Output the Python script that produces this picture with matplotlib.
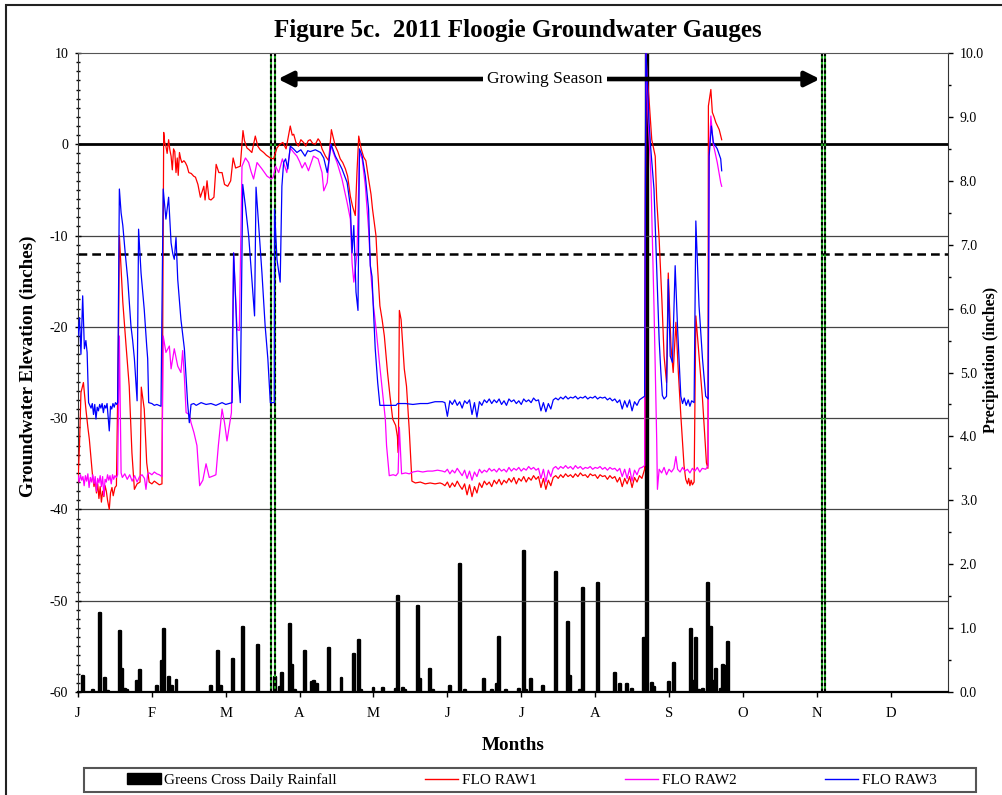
import numpy as np
import matplotlib.pyplot as plt
from matplotlib.patches import Rectangle, Patch
from matplotlib.lines import Line2D
from matplotlib.ticker import MultipleLocator, FormatStrFormatter

plt.rcParams['font.family'] = ['Liberation Serif', 'DejaVu Serif']
plt.rcParams['axes.unicode_minus'] = False

# axe x : jours depuis le 1er janvier (repères mensuels réguliers)
month_ticks = [0, 30, 60, 90, 120, 150, 180, 210, 240, 270, 300, 330]
month_labels = ['J', 'F', 'M', 'A', 'M', 'J', 'J', 'A', 'S', 'O', 'N', 'D']

# pluie journalière (pouces), Greens Cross
rain_day = [2, 6, 9, 11, 12, 17, 18, 19, 20, 24, 25, 32, 34, 35, 37, 38, 40,
            54, 57, 58, 63, 67, 73, 80, 82, 83, 86, 87, 88, 92, 95, 96, 97,
            102, 107, 112, 114, 115, 120, 124, 129, 130, 132, 133, 138, 139,
            143, 144, 151, 155, 157, 165, 168, 170, 171, 174, 179, 181, 182,
            184, 189, 194, 199, 200, 204, 205, 211, 218, 220, 223, 225, 230,
            231, 233, 234, 240, 242, 249, 250, 251, 252, 254, 256, 257, 258,
            259, 261, 262, 263, 264]
rain_in = [0.25, 0.03, 1.24, 0.22, 0.02, 0.95, 0.36, 0.04, 0.03, 0.17, 0.35,
           0.09, 0.49, 0.99, 0.23, 0.09, 0.18,
           0.09, 0.64, 0.09, 0.52, 1.01, 0.73, 0.24, 0.08, 0.30, 1.06, 0.42,
           0.03, 0.64, 0.16, 0.17, 0.12,
           0.69, 0.22, 0.60, 0.82, 0.03, 0.06, 0.06, 0.05, 1.51, 0.06, 0.03,
           1.35, 0.21, 0.36, 0.03, 0.10, 2.01, 0.03, 0.21, 0.03, 0.12, 0.86,
           0.03, 0.05, 2.20, 0.03, 0.21, 0.09, 1.88, 1.10, 0.25, 0.03, 1.63,
           1.71, 0.29, 0.12, 0.12, 0.05, 0.85, 10.5, 0.14, 0.08, 0.16, 0.45,
           0.99, 0.17, 0.84, 0.03, 0.05, 1.71, 1.01, 0.17, 0.36, 0.05, 0.42,
           0.41, 0.78]

# FLO RAW1 (rouge)
raw1_day_a = [0, 0.6, 1.2, 2.2, 3.2, 4.0, 4.6, 5.9, 6.5, 7, 7.5, 8, 8.5, 9,
              9.5, 10, 10.5, 11, 11.5, 12, 12.7, 13.2, 13.8, 14.3, 15, 15.6,
              16.5, 16.8, 18.2, 19.5, 20.8, 21.9, 22.9, 24, 25.2, 25.7, 26.9,
              27.9, 28.9, 30, 31, 32, 33, 34.1, 34.8, 35.2, 35.7, 36.2, 36.8,
              37.3, 37.8, 38.3, 38.8, 39.3, 39.8, 40.3, 40.7, 41.2, 41.7, 42.2,
              43.0, 43.6, 44.3, 45.0, 46, 47, 47.7, 48.7, 49.7, 50.4, 51.1,
              51.6, 52.4, 53.2, 54, 55.2, 56.1, 57.2, 58.5, 59.5, 60.8, 62,
              63.0, 64, 65.9, 67.0, 67.6, 68.6, 69.5, 70.6, 72.0, 73, 74, 75.4,
              76.5, 78.1, 79.4, 80.8, 82, 83.2, 84.5, 86.2, 87.0, 87.6, 88.5,
              89.5, 90.5, 91.6, 92.5, 93.5, 94.3, 95.3, 96.4, 97.5, 98.3, 99.1,
              100.5, 101.8, 102.9, 103.5, 104.5, 105.5, 106.5, 107.5, 108.6,
              109.5, 110.6, 111.5, 112.6, 113.3, 114.0, 115, 116, 116.9, 118.0,
              119.0, 119.6, 121.0, 121.7, 122.6, 123.5, 124.4, 125.7, 126.7,
              127.8, 129, 129.7, 130.1, 130.5, 131.2, 132.5, 133.4, 134.5,
              135.6, 137, 139, 141, 143, 145, 147, 148]
raw1_val_a = [-37.0, -33, -27.2, -26.1, -29.0, -31, -32.3, -36.3, -37.5, -36.8,
              -38.2, -37.2, -38.8, -37.5, -39.2, -38, -38.6, -37.4, -38, -39,
              -40.0, -38.2, -37.6, -38.5, -37.6, -37.4, -20, -10.0, -17.3,
              -22.0, -26.5, -33.8, -37.8, -37.2, -37.0, -26.6, -29.0, -34.9,
              -37.0, -37.2, -36.9, -37.1, -37.3, -37.2, 1.3, 0.2, -0.2, -1.0,
              0.5, -0.6, -1.3, -2.8, -0.5, -0.8, -3.1, -1.5, -3.4, -0.9, -1.6,
              -2.0, -1.8, -2.0, -2.4, -3.1, -3.2, -3.5, -3.6, -4.4, -5.8, -5.2,
              -4.6, -6.1, -4.0, -6.0, -6.1, -5.8, -2.2, -3.1, -3.1, -4.4, -4.6,
              -4.0, -1.5, -2.6, -2.4, 1.5, 0.4, -0.4, -0.6, -0.9, 0.9, -0.2,
              -0.6, -0.9, -1.2, -1.5, -1.6, -0.4, 0.0, 0.2, -0.5, 2.0, 1.0, 1.1,
              0.2, -0.2, 0.5, 0.2, -0.2, 0.4, 0.5, 0.1, 0.0, 0.6, 0.3, -0.5,
              -1.3, -1.8, 1.6, 0.9, -0.2, -0.8, -1.6, -2.0, -2.7, -3.5, -5.7,
              -6.8, -7.8, -3.0, 0.9, -0.5, -1.4, -1.8, -3.8, -5.5, -7.1, -10.0,
              -13.7, -17.7, -19.2, -21.0, -25.0, -27.6, -30.1, -30.8, -32.0,
              -33.8, -18.2, -19.2, -24.6, -26.5, -31.2, -36.9, -37.1, -37.0,
              -37.2, -37.1, -37.2, -37.1, -37.2]
raw1_summer = [-37.4, -37.0, -37.6, -37.1, -37.5, -36.9, -37.4, -37.8, -37.2, -38.4,
               -37.3, -38.6, -37.5, -38.2, -37.1, -37.6, -36.9, -37.3, -37.0, -37.5,
               -36.8, -37.2, -36.7, -37.3, -36.8, -37.1, -36.6, -37.0, -36.5, -37.2,
               -36.6, -36.9, -36.4, -37.0, -36.5, -36.8, -36.3, -36.7, -36.4, -37.6,
               -36.6, -37.8, -36.8, -37.4, -36.5, -36.3, -36.6, -36.2, -36.5, -36.1,
               -36.4, -36.2, -36.5, -36.1, -36.4, -36.0, -36.3, -36.2, -36.5, -36.1,
               -36.3, -36.2, -36.6, -36.2, -36.4, -36.3, -36.7, -36.3, -36.6, -36.4,
               -37.0, -36.5, -37.5, -36.6, -37.2, -36.4, -37.6, -36.5, -37.0, -36.3,
               -36.6]
raw1_day_b = [230.1, 230.6, 231.0, 231.9, 233, 234.4, 235, 236, 237.1, 238, 239,
              239.7, 240.8, 241.7, 242.8, 243.8, 244.8, 246.1, 246.8, 247.5, 248,
              248.5, 249, 249.5, 250.2, 250.9, 252.2, 253.6, 255.2, 255.8, 256,
              257, 257.6, 258.3, 259, 260.4, 261.4]
raw1_val_b = [-35.6, 10.5, 8.0, 4.9, 0.5, -1.3, -6.0, -10.4, -17.0, -23.2, -26.1,
              -14.1, -22.1, -25.0, -19.5, -25.0, -29.7, -35.2, -36.7, -37.2,
              -36.6, -37.4, -36.8, -37.3, -37.0, -18.8, -23.2, -27.9, -34.9,
              -35.5, 4.2, 6.0, 3.5, 3.0, 2.4, 1.6, 0.5]

# FLO RAW2 (magenta)
raw2_day_a = [0, 0.5, 1, 1.5, 2, 2.5, 3, 3.5, 4, 4.5, 5, 5.5, 6, 6.5, 7, 7.5, 8,
              8.5, 9, 9.5, 10, 10.5, 11, 11.5, 12, 12.5, 13, 13.5, 14, 14.5, 15,
              15.6, 16.1, 16.8, 17.5, 18, 19, 20, 21, 22, 23, 24, 25, 26, 27,
              27.6, 28.3, 29, 30, 31, 32, 33, 34.1, 34.6, 35.7, 37.1, 37.8, 39.1,
              40.5, 41.8, 42.5, 43.2, 43.9, 45.2, 45.9, 47.1, 48.3, 49.4, 50.7,
              52, 53.3, 55.2, 56, 57, 58.1, 58.5, 59.5, 60.5, 62.3, 63.2, 64.6,
              65.5, 66.6, 68, 69.3, 70.3, 71.3, 72.7, 74.7, 76.8, 78.5, 79.3,
              80.2, 81.5, 83, 84.8, 86.2, 87.6, 88.9, 90, 91, 92.2, 93.6, 95.6,
              97.5, 99.1, 99.8, 101.2, 102.5, 103.8, 105.2, 107.2, 109.3, 110.6,
              111.3, 112.0, 113.3, 114.3, 115.4, 116.7, 118.0, 118.9, 120, 121.2,
              122.4, 123.7, 124.8, 125.3, 126.4, 128, 129.1, 130, 130.5, 131.4,
              133, 134.5, 136, 138, 140, 142, 144, 146, 148]
raw2_val_a = [-36.3, -37.0, -36.2, -36.8, -36.4, -37.4, -36.3, -36.9, -36.1,
              -37.6, -36.5, -37.0, -36.2, -37.2, -36.4, -38.0, -36.6, -37.1,
              -36.3, -37.5, -36.4, -38.5, -36.7, -37.0, -36.2, -36.8, -36.3,
              -37.2, -36.2, -36.7, -36.3, -36.5, -36.2, -21.0, -36.0, -36.5,
              -36.1, -36.7, -36.2, -36.9, -36.3, -37.0, -36.4, -36.2, -36.6,
              -37.8, -36.1, -36.0, -36.2, -35.9, -36.1, -36.2, -36.4, -21.0,
              -22.8, -22.1, -24.6, -22.4, -24.3, -25.0, -22.6, -25.5, -29.4,
              -29.6, -30.5, -31.6, -33.0, -37.4, -36.8, -35.0, -36.5, -36.3,
              -36.2, -33.0, -30.1, -29.0, -30.5, -32.5, -29.4, -11.9, -20.3,
              -20.4, -2.4, -1.5, -2.0, -3.0, -3.8, -2.0, -2.7, -3.5, -3.8, -3.6,
              -2.4, -3.1, -1.6, -3.1, -0.4, -0.9, -1.3, -1.9, -2.6, -2.0, -2.9,
              -1.3, -1.6, -3.1, -5.1, -4.2, 0.0, -1.0, -2.0, -3.8, -6.4, -8.2,
              -13.0, -15.1, -12.0, -0.9, -1.6, -4.6, -9.3, -14.1, -17.7, -20.6,
              -23.9, -27.2, -30.1, -33.0, -36.3, -36.2, -36.3, -36.0, -31.0,
              -36.1, -36.0, -36.1, -35.9, -35.8, -35.9, -35.8, -35.8, -35.7,
              -35.8]
raw2_summer = [-35.9, -35.6, -36.1, -35.7, -36.0, -35.5, -35.9, -36.3, -35.7, -36.6,
               -35.8, -36.8, -35.9, -36.4, -35.6, -36.0, -35.7, -35.9, -35.5, -35.8,
               -35.6, -35.9, -35.5, -35.8, -35.6, -35.9, -35.4, -35.8, -35.5, -35.7,
               -35.4, -35.8, -35.5, -35.7, -35.3, -35.6, -35.4, -35.7, -35.5, -36.6,
               -35.6, -37.0, -35.7, -36.4, -35.5, -35.3, -35.6, -35.3, -35.5, -35.2,
               -35.5, -35.3, -35.6, -35.2, -35.5, -35.3, -35.6, -35.4, -35.5, -35.3,
               -35.6, -35.4, -35.5, -35.3, -35.6, -35.4, -35.7, -35.4, -35.6, -35.5,
               -35.8, -35.5, -36.4, -35.6, -36.6, -35.5, -36.9, -35.7, -36.2, -35.5,
               -35.4]
raw2_day_b = [230.1, 230.6, 231.5, 232.6, 233.9, 235, 235.3, 236, 237, 238, 239,
              240, 241, 242, 242.8, 243.5, 244.5, 245.5, 246.5, 247.5, 248.5,
              249.5, 250.5, 251.5, 252.5, 253.5, 254.9, 255.9, 256.3, 257, 258,
              259.6, 261, 261.4]
raw2_val_b = [-35.2, 10.5, 3.0, -3.1, -17.7, -32.3, -37.8, -35.6, -36.0, -35.4,
              -36.2, -35.6, -35.9, -35.5, -34.2, -35.6, -35.9, -35.4, -35.8,
              -35.6, -36.0, -35.5, -35.8, -35.4, -35.9, -35.5, -35.6, -35.2,
              -1.3, 3.1, 0.0, -2.0, -4.2, -4.6]

# FLO RAW3 (bleu)
raw3_day_a = [0, 0.6, 1.2, 1.9, 2.6, 3.2, 3.7, 4.3, 4.8, 5.3, 5.8, 6.3, 6.8, 7.3,
              7.8, 8.3, 8.8, 9.3, 9.8, 10.3, 10.8, 11.3, 11.8, 12.3, 12.7, 13.2,
              13.7, 14.2, 14.7, 15.2, 15.7, 16.1, 16.8, 17.5, 18.2, 19.2, 20.2,
              21.5, 22.2, 22.9, 23.5, 24.0, 24.6, 25.6, 26.9, 27.9, 28.3, 28.7,
              30, 31, 32, 33.7, 34.6, 35.7, 36.8, 37.8, 38.5, 39.1, 39.8, 40.5,
              41.8, 43.2, 44.5, 45.2, 45.9, 47, 48, 50, 52, 54, 56, 58.5, 60,
              62.6, 63.2, 64.1, 65, 65.9, 66.9, 68, 69.3, 70.6, 71.7, 72.3, 73.3,
              74.7, 76, 77.1, 78.1, 79.7, 79.8, 80.8, 82.1, 82.8, 83.5, 84.3,
              85.2, 86.2, 87.5, 88.9, 90.5, 92.2, 93.3, 94.3, 96.4, 98.5, 99.8,
              101.2, 101.8, 102.8, 104.5, 105.9, 107.2, 109.3, 110.6, 111.3,
              112.0, 112.9, 113.7, 114.3, 115.4, 116.7, 118.0, 118.7, 119.4,
              119.9, 120.7, 121.7, 122.6, 125, 129.1, 129.8, 133, 136, 139, 142,
              145, 148]
raw3_val_a = [-21.0, -19.0, -23.0, -16.6, -22.4, -21.5, -22.8, -28.3, -28.6,
              -28.9, -28.4, -29.6, -28.5, -30.1, -28.8, -29.2, -28.5, -28.9,
              -28.4, -29.4, -28.6, -28.9, -28.4, -30.0, -31.4, -28.7, -29.0,
              -28.4, -28.8, -28.3, -28.5, -28.3, -4.9, -7.5, -8.9, -12.0, -14.8,
              -19.9, -21.5, -23.5, -26.0, -28.1, -9.3, -14.1, -18.1, -22.1,
              -23.5, -28.3, -28.4, -28.6, -28.5, -28.7, -4.9, -8.2, -5.8, -10.8,
              -12.0, -12.6, -10.2, -14.8, -19.2, -22.4, -28.3, -30.5, -28.5,
              -28.4, -28.6, -28.3, -28.5, -28.4, -28.6, -28.3, -28.5, -28.3,
              -11.9, -17.7, -24.6, -28.3, -4.4, -6.8, -10.0, -14.8, -18.8, -4.7,
              -8.6, -14.1, -19.9, -23.5, -28.3, -28.3, -7.1, -12.6, -15.1, -4.6,
              -2.0, -1.6, -2.7, -0.2, -0.5, -0.9, -0.6, -1.3, -0.7, -0.8, -0.6,
              -0.9, -1.5, -3.1, -2.0, 0.0, -1.3, -2.0, -2.7, -4.2, -6.8, -11.9,
              -8.9, -16.2, -18.2, -0.5, -1.3, -3.5, -7.1, -13.3, -14.5, -17.7,
              -22.4, -26.1, -28.6, -28.6, -28.6, -28.4, -28.4, -28.5, -28.4,
              -28.4, -28.2, -28.2]
raw3_summer = [-28.3, -29.8, -28.1, -28.5, -28.0, -28.6, -28.2, -28.9, -28.1, -28.4,
               -28.0, -29.6, -28.3, -29.9, -28.2, -28.6, -28.0, -28.3, -27.9, -28.4,
               -28.0, -28.3, -27.9, -28.5, -28.1, -28.6, -27.9, -28.2, -28.0, -28.4,
               -28.1, -28.5, -27.9, -28.2, -28.0, -28.3, -27.8, -28.1, -28.0, -29.2,
               -28.3, -29.3, -28.4, -29.0, -28.0, -27.8, -28.0, -27.7, -27.9, -27.6,
               -27.9, -27.7, -27.8, -27.6, -27.9, -27.7, -27.8, -27.6, -27.9, -27.7,
               -27.8, -27.6, -27.9, -27.7, -27.8, -27.7, -28.0, -27.8, -28.1, -27.9,
               -28.3, -28.0, -29.0, -28.1, -28.8, -28.0, -29.2, -28.2, -28.6, -28.0,
               -27.8]
raw3_day_b = [230.1, 230.6, 231.9, 232.6, 233.9, 234.6, 235.3, 236, 236.7, 237.3,
              238, 239, 239.7, 240.5, 241.4, 242.5, 243.5, 244.8, 245.5, 246.2,
              247, 247.8, 248.5, 249.2, 250.2, 250.9, 252.2, 253.6, 254.9, 255.9,
              256.3, 257.2, 258, 259.6, 261, 261.4]
raw3_val_b = [-27.6, 10.5, 2.4, -0.5, -4.9, -10.4, -15.9, -21.4, -25.0, -27.5,
              -27.9, -27.6, -14.8, -23.2, -23.9, -13.3, -20.3, -27.6, -28.4,
              -27.8, -28.6, -28.0, -28.7, -28.1, -28.3, -8.4, -17.7, -23.5,
              -27.6, -27.9, -1.3, 2.0, 0.2, -0.5, -1.6, -2.9]

summer_start = 149


def serie(day_a, val_a, summer, day_b, val_b):
    d = list(day_a) + list(np.arange(summer_start, summer_start + len(summer))) + list(day_b)
    v = list(val_a) + list(summer) + list(val_b)
    return d, v


fig = plt.figure(figsize=(10.02, 7.95), dpi=100)
ax = fig.add_axes([78 / 1002, 1 - 692 / 795, 870 / 1002, 639 / 795])
ax2 = ax.twinx()
ax.set_zorder(ax2.get_zorder() + 1)
ax.patch.set_visible(False)

# pluie
ax2.bar(rain_day, rain_in, width=0.8, color='black', edgecolor='black',
        linewidth=1.7, joinstyle='round')
ax2.set_ylim(0, 10)
ax2.yaxis.set_major_locator(MultipleLocator(1))
ax2.yaxis.set_minor_locator(MultipleLocator(0.5))
ax2.yaxis.set_major_formatter(FormatStrFormatter('%.1f'))
ax2.tick_params(axis='y', which='major', direction='out', length=3.5, width=1,
                labelsize=10, pad=5)
ax2.tick_params(axis='y', which='minor', direction='out', length=2.5, width=1)
for s in ['top', 'left', 'bottom']:
    ax2.spines[s].set_visible(False)
ax2.spines['right'].set_color('#333333')

# lignes de référence
for g in [-10, -20, -30, -40, -50]:
    ax.axhline(g, color='#444444', lw=0.9, zorder=1)
ax.axhline(0, color='black', lw=2, zorder=2)
ax.axhline(-12, color='black', lw=1.8, linestyle=(0, (3.5, 2)), zorder=2)

for d in [78.5, 80.1, 302.0, 303.5]:
    ax.axvline(d, color='#22aa22', lw=1.5, zorder=2)
    ax.axvline(d, color='black', lw=1.5, linestyle=(0, (1.6, 1.2)), zorder=2)

# niveaux de nappe
d1, v1 = serie(raw1_day_a, raw1_val_a, raw1_summer, raw1_day_b, raw1_val_b)
d2, v2 = serie(raw2_day_a, raw2_val_a, raw2_summer, raw2_day_b, raw2_val_b)
d3, v3 = serie(raw3_day_a, raw3_val_a, raw3_summer, raw3_day_b, raw3_val_b)
ax.plot(d1, v1, color='#ff0000', lw=0.9, zorder=3)
ax.plot(d2, v2, color='#ff00ff', lw=0.9, zorder=3)
ax.plot(d3, v3, color='#0000ff', lw=0.9, zorder=4)

ax.set_xlim(0, 353.3)
ax.set_ylim(-60, 10)
ax.set_xticks(month_ticks, month_labels)
ax.yaxis.set_major_locator(MultipleLocator(10))
ax.yaxis.set_minor_locator(MultipleLocator(1))
ax.tick_params(axis='y', which='major', direction='inout', length=4, width=1,
               labelsize=10, pad=5, right=False)
ax.tick_params(axis='y', which='minor', direction='inout', length=3, width=1,
               right=False)
ax.tick_params(axis='x', direction='out', length=3.5, width=1, labelsize=10.5,
               pad=7, top=False)
ax.spines['right'].set_visible(False)
ax.spines['top'].set_color('#555555')
ax.spines['top'].set_linewidth(0.8)
ax.spines['bottom'].set_linewidth(1.6)
ax.spines['left'].set_color('#333333')

# saison de croissance
ax.annotate('', xy=(81.2, 7.15), xytext=(301.3, 7.15),
            arrowprops=dict(arrowstyle='<|-|>', lw=3.3, color='black',
                            mutation_scale=22, shrinkA=0, shrinkB=0), zorder=5)
ax.text(189.6, 7.15, 'Growing Season', ha='center', va='center', fontsize=12.5,
        bbox=dict(facecolor='white', edgecolor='none', pad=3), zorder=6)

# textes
fig.text(518 / 1002, 1 - 30 / 795, 'Figure 5c.  2011 Floogie Groundwater Gauges',
         ha='center', va='center', fontsize=18, fontweight='bold')
fig.text(28 / 1002, 1 - 366 / 795, 'Groundwater Elevation (inches)', rotation=90,
         ha='center', va='center', fontsize=13.8, fontweight='bold')
fig.text(991 / 1002, 1 - 360 / 795, 'Precipitation (inches)', rotation=90,
         ha='center', va='center', fontsize=11.5, fontweight='bold')
fig.text(513 / 1002, 1 - 745 / 795, 'Months', ha='center', va='center',
         fontsize=13.8, fontweight='bold')

handles = [Patch(facecolor='black', edgecolor='black', joinstyle='round'),
           Line2D([], [], color='#ff0000', lw=1),
           Line2D([], [], color='#ff00ff', lw=1),
           Line2D([], [], color='#0000ff', lw=1)]
labels = ['Greens Cross Daily Rainfall', 'FLO RAW1', 'FLO RAW2', 'FLO RAW3']
fig.legend(handles, labels, loc='center', ncol=4,
           bbox_to_anchor=(532 / 1002, 1 - 780 / 795), fontsize=11,
           frameon=False, handlelength=2.2, handletextpad=0.25,
           columnspacing=5.75, borderpad=0, borderaxespad=0)
fig.patches.append(Rectangle((84 / 1002, 3 / 795), 892 / 1002, 24 / 795,
                             transform=fig.transFigure, fill=False,
                             edgecolor='#555555', lw=1.5))

fig.patches.append(Rectangle((6 / 1002, -0.1), 1.2, 1.1 - 5 / 795, transform=fig.transFigure,
                             fill=False, edgecolor='#222222', lw=1.5))

fig.savefig('out.png', dpi=100)
